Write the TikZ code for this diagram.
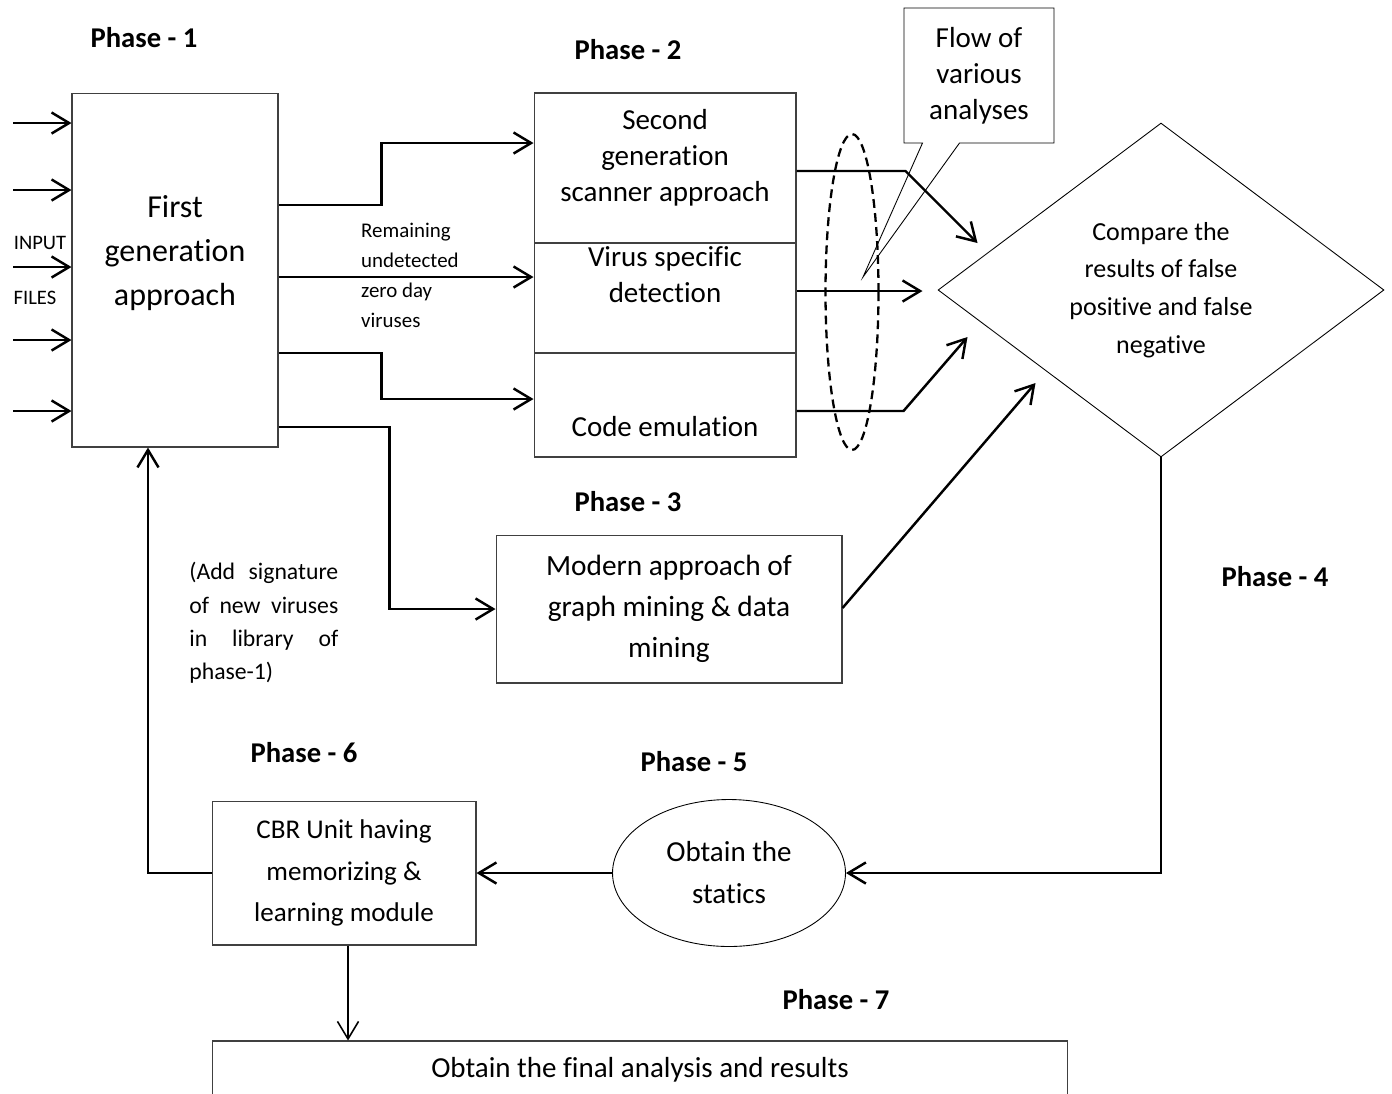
\documentclass[tikz,border=0pt]{standalone}
\usepackage{fontspec}
\setmainfont{Carlito}[Ligatures=NoCommon]
\usetikzlibrary{arrows.meta,calc,positioning,shapes.geometric,shapes.callouts}

\begin{document}
\begin{tikzpicture}[x=0.02cm, y=-0.02cm, >={Straight Barb[length=10pt,width=12pt]},
    arr/.style={->, line width=1.4pt},
    box/.style={draw=black!75, line width=0.6pt, inner sep=0pt, align=center},
    phase/.style={font=\fontsize{16.3}{19}\selectfont\bfseries},
    body/.style={font=\fontsize{16.5}{20.5}\selectfont, align=center}]

    \useasboundingbox (0,0) rectangle (1392,1093);

    \node[phase] (ph1) at (144,38) {Phase - 1};
    \node[phase] (ph2) at (628,50) {Phase - 2};
    \node[phase] (ph3) at (628,502) {Phase - 3};
    \node[phase] (ph4) at (1275,577) {Phase - 4};
    \node[phase] (ph5) at (694,762) {Phase - 5};
    \node[phase] (ph6) at (304,753) {Phase - 6};
    \node[phase] (ph7) at (836,1000) {Phase - 7};

    \node[box, minimum width=4.12cm, minimum height=7.08cm] (first) at (175,270) {};
    \node[font=\fontsize{18.2}{25}\selectfont, align=center] (firsttxt) at (175,253) {First\\generation\\approach};
    \node[font=\fontsize{11.7}{14}\selectfont] (inp) at (40,243) {INPUT};
    \node[font=\fontsize{11.7}{14}\selectfont] (fil) at (35,298) {FILES};

    \node[box, minimum width=5.24cm, minimum height=3cm] (sec) at (665,168) {};
    \node[box, minimum width=5.24cm, minimum height=2.2cm] (vsd) at (665,298) {};
    \node[box, minimum width=5.24cm, minimum height=2.08cm] (code) at (665,405) {};
    \node[body] (sectxt) at (665,158) {Second\\generation\\scanner approach};
    \node[body] (vsdtxt) at (665,275) {Virus specific\\detection};
    \node[body] (codetxt) at (665,427) {Code emulation};

    \node[box, minimum width=6.92cm, minimum height=2.96cm, font=\fontsize{16.7}{23.3}\selectfont] (modern) at (669,609) {Modern approach of\\graph mining \& data\\mining};

    \coordinate (tip) at (863,277);
    \node[rectangle callout, draw, line width=0.5pt, inner sep=0pt, minimum width=3cm, minimum height=2.7cm,
          callout absolute pointer={(tip)}, callout pointer width=0.74cm, body] (note) at (979,75.5) {Flow of\\various\\analyses};
    \node[draw, ellipse, line width=1.3pt, dash pattern=on 5pt off 3pt, inner sep=0pt,
          minimum width=1.06cm, minimum height=6.32cm] (flow) at (852,292) {};

    \node[draw, diamond, aspect=1.33, line width=0.5pt, inner sep=0pt, minimum width=8.92cm, minimum height=6.68cm,
          align=center, font=\fontsize{14.8}{21.5}\selectfont] (comp) at (1161,290) {Compare the\\results of false\\positive and false\\negative};

    \node[draw, ellipse, line width=0.5pt, inner sep=0pt, minimum width=4.66cm, minimum height=2.94cm,
          font=\fontsize{16.5}{23.9}\selectfont, align=center] (stat) at (729,873) {Obtain the\\statics};
    \node[box, minimum width=5.28cm, minimum height=2.88cm, font=\fontsize{15.4}{23.6}\selectfont] (cbr) at (344,873) {CBR Unit having\\memorizing \&\\learning module};
    \node[box, minimum width=17.12cm, minimum height=1.16cm, body] (final) at (640,1070) {Obtain the final analysis and results};

    \node[font=\fontsize{11.9}{17.1}\selectfont, align=left, anchor=west] (rem) at (355,275) {Remaining\\undetected\\zero day\\viruses};
    \node[font=\fontsize{13.5}{19}\selectfont, align=left, anchor=west, inner sep=0pt] (sig) at (189,623)
        {\makebox[2.98cm][s]{(Add signature}\\\makebox[2.98cm][s]{of new viruses}\\\makebox[2.98cm][s]{in library of}\\phase-1)};

    % Inputs
    \foreach \y in {123,190,267,340,411}
        \draw[<-, line width=1.4pt] (first.west |- 0,\y) -- ++(-58,0);

    \draw[arr] (first.east |- 0,205) -- ++(103,0) |- (sec.west |- 0,143);
    \draw[arr] (first.east |- 0,277) -- (vsd.west |- 0,277);
    \draw[arr] (first.east |- 0,353) -- ++(103,0) |- (code.west |- 0,399);
    \draw[arr] (first.east |- 0,427) -- ++(111,0) |- (modern.west);

    \draw[arr] (sec.east |- 0,171) -- ++(109,0) -- ++(72,72);
    \draw[arr] (vsd.east |- 0,291) -- ++(126,0);
    \draw[arr] (code.east |- 0,411) -- ++(107,0) -- ++(64,-74);
    \draw[arr] (modern.east |- 0,608) -- ++(193,-225);

    \draw[arr] (comp.south) |- (stat.east);
    \draw[arr] (stat.west) -- (cbr.east);
    \draw[arr] (cbr.west) -| (first.south -| 148,0);
    \draw[->, line width=0.9pt] (cbr.south -| 348,0) -- (final.north -| 348,0);
\end{tikzpicture}
\end{document}
